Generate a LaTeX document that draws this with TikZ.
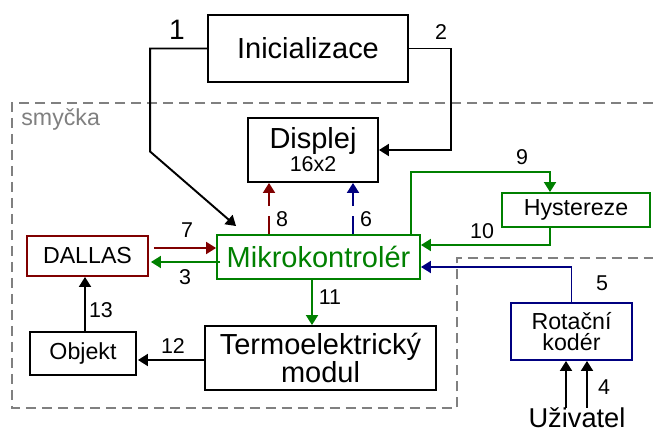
\documentclass[tikz,border=0pt]{standalone}
\usepackage{fontspec}
\setmainfont{Liberation Sans}
\usetikzlibrary{arrows.meta}
\definecolor{dallasred}{RGB}{128,0,0}
\definecolor{mcugreen}{RGB}{0,128,0}
\definecolor{encblue}{RGB}{0,0,128}
\definecolor{loopgray}{RGB}{128,128,128}

\begin{document}
\begin{tikzpicture}[x=0.02cm,y=-0.02cm,
  box/.style={draw,line width=1.1pt,inner sep=0pt,align=center,font=\fontsize{13.2}{12}\selectfont},
  bigbox/.style={box,font=\fontsize{16.5}{14.5}\selectfont},
  lbl/.style={inner sep=0pt,font=\fontsize{12.2}{14}\selectfont},
  arr/.style={line width=1.1pt,-{Triangle[length=0.2cm,width=0.24cm]}},
  loopline/.style={loopgray,line width=1.1pt,dash pattern=on 0.2cm off 0.12cm}]
  \useasboundingbox (0,0) rectangle (653,432);

  % smycka
  \draw[loopline] (653,103) -- (12,103) -- (12,408) -- (457,408) -- (457,258) -- (653,258);
  \node[anchor=base west,inner sep=0pt,text=loopgray,font=\fontsize{13.2}{14}\selectfont] (loopname) at (21,126) {smyčka};

  % bloky
  \node[bigbox,minimum width=4cm,minimum height=1.34cm] (init) at (308,48.5) {Inicializace};
  \node[box,minimum width=2.6cm,minimum height=1.28cm] (disp) at (313,150)
    {{\fontsize{16.5}{17}\selectfont Displej}\\[1pt]{\fontsize{12.2}{13}\selectfont 16x2}};
  \node[bigbox,draw=mcugreen,text=mcugreen,minimum width=4.06cm,minimum height=0.88cm] (mcu) at (318.5,257) {Mikrokontrolér};
  \node[box,draw=mcugreen,minimum width=2.96cm,minimum height=0.68cm] (hyst) at (576,210) {Hystereze};
  \node[box,draw=dallasred,minimum width=2.42cm,minimum height=0.8cm] (dallas) at (87.5,256) {DALLAS};
  \node[bigbox,minimum width=4.62cm,minimum height=1.28cm] (termo) at (320.5,358) {Termoelektrický\\modul};
  \node[box,minimum width=2.12cm,minimum height=0.86cm] (objekt) at (83,353.5) {Objekt};
  \node[box,draw=encblue,minimum width=2.42cm,minimum height=1.14cm] (rot) at (571.5,331.5) {Rotační\\kodér};
  \node[anchor=base,inner sep=0pt,font=\fontsize{15.5}{16}\selectfont] (user) at (577,428) {Uživatel};

  % spoje
  \draw[arr] (init.west) -- ++(-57,0) -- ++(0,103) -- ([shift={(0.4cm,0.16cm)}]mcu.north west);
  \draw[arr] (init.east) -- ++(42,0) |- (disp.east);
  \draw[arr,dallasred,dash pattern=on 0.36cm off 0.2cm on 2cm] ([xshift=-0.99cm]mcu.north) -- ([xshift=-0.99cm]mcu.north |- disp.south);
  \draw[arr,encblue,dash pattern=on 0.36cm off 0.2cm on 2cm] ([xshift=0.69cm]mcu.north) -- ([xshift=0.69cm]mcu.north |- disp.south);
  \draw[arr,mcugreen] ([xshift=1.85cm]mcu.north) -- ++(0,-62) -| ([xshift=-0.52cm]hyst.north);
  \draw[arr,mcugreen] ([xshift=-0.52cm]hyst.south) |- ([yshift=0.24cm]mcu.east);
  \draw[arr,encblue] (rot.north) |- ([yshift=-0.2cm]mcu.east);
  \draw[arr,dallasred,shorten <=0.1cm] ([yshift=0.16cm]dallas.east) -- ([yshift=0.16cm]dallas.east -| mcu.west);
  \draw[arr,mcugreen,shorten <=-0.08cm,shorten >=0.04cm] ([yshift=-0.1cm]mcu.west) -- ([yshift=-0.1cm]mcu.west -| dallas.east);
  \draw[arr,mcugreen] ([xshift=-0.13cm]mcu.south) -- ([xshift=-0.13cm]mcu.south |- termo.north);
  \draw[arr,shorten >=0.02cm] ([yshift=-0.04cm]termo.west) -- ([yshift=-0.04cm]termo.west -| objekt.east);
  \draw[arr] ([xshift=0.04cm]objekt.north) -- ([xshift=0.04cm]objekt.north |- dallas.south);
  \draw[arr] ([xshift=-0.22cm]user.north) -- ([xshift=-0.22cm]user.north |- rot.south);
  \draw[arr] ([xshift=0.2cm]user.north) -- ([xshift=0.2cm]user.north |- rot.south);

  % cisla
  \node[inner sep=0pt,font=\fontsize{16}{17}\selectfont] (n1) at (177,30) {1};
  \node[lbl] (n2) at (441,32) {2};
  \node[lbl] (n3) at (185,277) {3};
  \node[lbl] (n4) at (604,387) {4};
  \node[lbl] (n5) at (602,283) {5};
  \node[lbl] (n6) at (366,219) {6};
  \node[lbl] (n7) at (187,230) {7};
  \node[lbl] (n8) at (282,219) {8};
  \node[lbl] (n9) at (522,157) {9};
  \node[lbl] (n10) at (482,231) {10};
  \node[lbl] (n11) at (330,297) {11};
  \node[lbl] (n12) at (173,346) {12};
  \node[lbl] (n13) at (101,310) {13};
\end{tikzpicture}
\end{document}
